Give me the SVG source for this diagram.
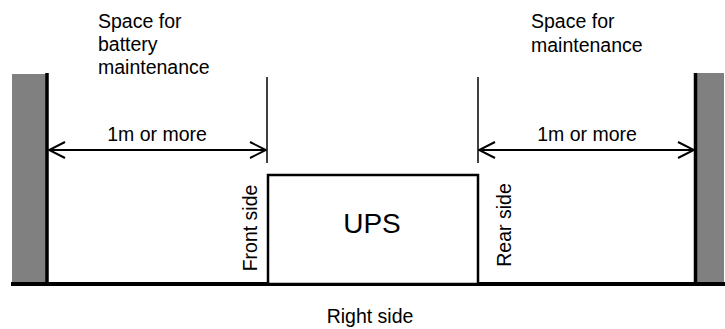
<svg xmlns="http://www.w3.org/2000/svg" width="725" height="329" viewBox="0 0 725 329">
<defs>
<style>
text{font-family:"Liberation Sans",Arial,sans-serif;fill:#000;font-size:19.5px}
.wall{fill:#808080}
.edge{stroke:#000;stroke-width:3.5;fill:none}
.tick{stroke:#000;stroke-width:1.5;fill:none}
.dim{stroke:#000;stroke-width:2;fill:none;marker-start:url(#a);marker-end:url(#a)}
</style>
<marker id="a" viewBox="0 0 18 18" markerUnits="userSpaceOnUse" markerWidth="18" markerHeight="18" refX="17" refY="9" orient="auto-start-reverse">
<path d="M1,1 L17,9 L1,17" fill="none" stroke="#000" stroke-width="2"/>
</marker>
</defs>
<rect width="725" height="329" fill="#fff"/>
<g id="left-wall">
<rect class="wall" x="12" y="74" width="34" height="210"/>
<line class="edge" x1="47" y1="73" x2="47" y2="284"/>
</g>
<g id="right-wall">
<rect class="wall" x="696" y="73" width="28" height="211"/>
<line class="edge" x1="695.5" y1="73" x2="695.5" y2="284"/>
</g>
<g id="floor">
<line x1="11" y1="284" x2="725" y2="284" stroke="#000" stroke-width="4"/>
</g>
<g id="ups">
<rect x="268" y="175" width="210" height="109" fill="#fff" stroke="#000" stroke-width="2.5"/>
<text x="372" y="233" font-size="28" text-anchor="middle" style="font-size:28px">UPS</text>
</g>
<g id="connectors">
<line class="tick" x1="267" y1="77" x2="267" y2="163"/>
<line class="tick" x1="478" y1="77" x2="478" y2="163"/>
<line class="dim" x1="49" y1="150" x2="266" y2="150"/>
<line class="dim" x1="479" y1="150" x2="694" y2="150"/>
</g>
<g id="labels">
<text x="98" y="28">Space for</text>
<text x="98" y="51">battery</text>
<text x="98" y="74">maintenance</text>
<text x="531" y="28">Space for</text>
<text x="531" y="52">maintenance</text>
<text x="157" y="141" text-anchor="middle">1m or more</text>
<text x="587" y="141" text-anchor="middle">1m or more</text>
<text x="370" y="323" text-anchor="middle">Right side</text>
<text transform="translate(257,228) rotate(-90)" text-anchor="middle">Front side</text>
<text transform="translate(511,225) rotate(-90)" text-anchor="middle">Rear side</text>
</g>
</svg>
